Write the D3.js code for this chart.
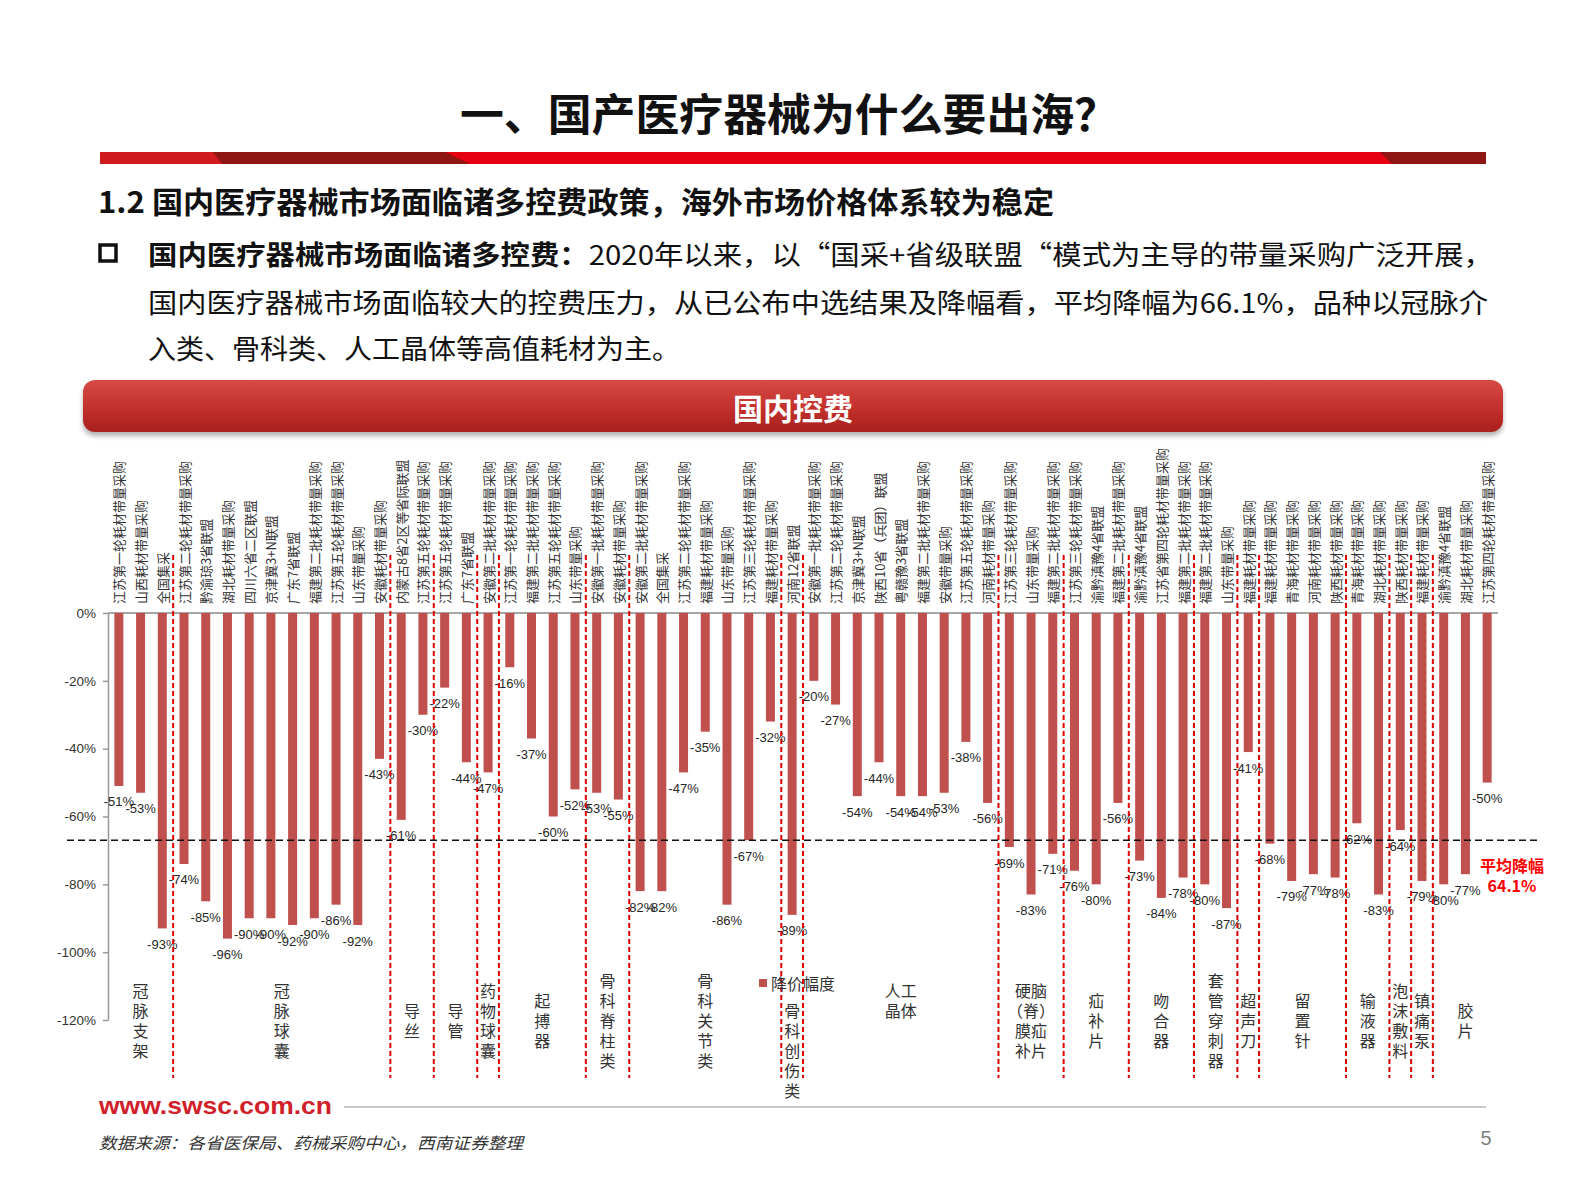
<!DOCTYPE html>
<html>
<head>
<meta charset="utf-8">
<script src="https://cdn.jsdelivr.net/npm/d3@7/dist/d3.min.js"></script>
<style>
  body { margin: 0; background: #fff; }
  svg { display: block; }
</style>
</head>
<body>
<script>
// categories (one per bar), read left to right
var categories = [
  "江苏第一轮耗材带量采购", "山西耗材带量采购", "全国集采", "江苏第二轮耗材带量采购",
  "黔渝琼3省联盟", "湖北耗材带量采购", "四川六省二区联盟", "京津冀3+N联盟",
  "广东7省联盟", "福建第二批耗材带量采购", "江苏第五轮耗材带量采购", "山东带量采购",
  "安徽耗材带量采购", "内蒙古8省2区等省际联盟", "江苏第五轮耗材带量采购", "江苏第五轮耗材带量采购",
  "广东7省联盟", "安徽第二批耗材带量采购", "江苏第一轮耗材带量采购", "福建第二批耗材带量采购",
  "江苏第五轮耗材带量采购", "山东带量采购", "安徽第一批耗材带量采购", "安徽耗材带量采购",
  "安徽第二批耗材带量采购", "全国集采", "江苏第二轮耗材带量采购", "福建耗材带量采购",
  "山东带量采购", "江苏第三轮耗材带量采购", "福建耗材带量采购", "河南12省联盟",
  "安徽第一批耗材带量采购", "江苏第二轮耗材带量采购", "京津冀3+N联盟", "陕西10省（兵团）联盟",
  "粤赣豫3省联盟", "福建第二批耗材带量采购", "安徽带量采购", "江苏第五轮耗材带量采购",
  "河南耗材带量采购", "江苏第三轮耗材带量采购", "山东带量采购", "福建第二批耗材带量采购",
  "江苏第三轮耗材带量采购", "渝黔滇豫4省联盟", "福建第二批耗材带量采购", "渝黔滇豫4省联盟",
  "江苏省第四轮耗材带量采购", "福建第二批耗材带量采购", "福建第二批耗材带量采购", "山东带量采购",
  "福建耗材带量采购", "福建耗材带量采购", "青海耗材带量采购", "河南耗材带量采购",
  "陕西耗材带量采购", "青海耗材带量采购", "湖北耗材带量采购", "陕西耗材带量采购",
  "福建耗材带量采购", "渝黔滇豫4省联盟", "湖北耗材带量采购", "江苏第四轮耗材带量采购"
]

// price cut (%) per bar
var cuts = [
  -51, -53, -93, -74, -85, -96, -90, -90, -92, -90, -86, -92, -43, -61, -30, -22,
  -44, -47, -16, -37, -60, -52, -53, -55, -82, -82, -47, -35, -86, -67, -32, -89,
  -20, -27, -54, -44, -54, -54, -53, -38, -56, -69, -83, -71, -76, -80, -56, -73,
  -84, -78, -80, -87, -41, -68, -79, -77, -78, -62, -83, -64, -79, -80, -77, -50
]

// product groups under the bars ("|" splits the label into rows)
var groupLabels = [
  "冠|脉|支|架", "冠|脉|球|囊", "导|丝", "导|管", "药|物|球|囊", "起|搏|器",
  "骨|科|脊|柱|类", "骨|科|关|节|类", "骨|科|创|伤|类", "人工|晶体",
  "硬脑|（脊）|膜疝|补片", "疝|补|片", "吻|合|器", "套|管|穿|刺|器", "超|声|刀",
  "留|置|针", "输|液|器", "泡|沫|敷|料", "镇|痛|泵", "胶|片"
]
var groupSizes = [3, 10, 2, 2, 1, 4, 2, 7, 1, 9, 3, 3, 3, 2, 1, 4, 2, 1, 1, 3]

var yTicks = [0, -20, -40, -60, -80, -100, -120]
var avgCut = -67
var avgLabel = ["平均降幅", "64.1%"]
var legendLabel = "降价幅度"

var W = 1587, H = 1190
var cjk = "'Noto Sans CJK SC', sans-serif"
var latin = "'Liberation Sans', Arial, sans-serif"

var svg = d3.select("body").append("svg")
  .attr("width", W)
  .attr("height", H)

var defs = svg.append("defs")
var pillGrad = defs.append("linearGradient")
  .attr("id", "pill").attr("x1", 0).attr("y1", 0).attr("x2", 0).attr("y2", 1)
pillGrad.append("stop").attr("offset", "0%").attr("stop-color", "#d64a45")
pillGrad.append("stop").attr("offset", "55%").attr("stop-color", "#c3302c")
pillGrad.append("stop").attr("offset", "100%").attr("stop-color", "#a81f1e")
defs.append("filter").attr("id", "shadow")
  .attr("x", "-5%").attr("y", "-30%").attr("width", "110%").attr("height", "180%")
  .append("feDropShadow")
  .attr("dx", 0).attr("dy", 4).attr("stdDeviation", 2.5)
  .attr("flood-color", "#000").attr("flood-opacity", 0.3)

// ---------- slide header ----------
svg.append("text")
  .attr("x", 789).attr("y", 112)
  .attr("text-anchor", "middle")
  .attr("dominant-baseline", "central")
  .style("font-family", cjk).style("font-weight", 700).style("font-size", "44px")
  .attr("textLength", 658).attr("lengthAdjust", "spacingAndGlyphs")
  .attr("fill", "#111")
  .text("一、国产医疗器械为什么要出海？")

// red band with dark ends
var band = svg.append("g")
band.append("rect").attr("x", 100).attr("y", 152).attr("width", 1386).attr("height", 12).attr("fill", "#e60012")
band.append("polygon").attr("points", "100,152 213,152 222,164 100,164").attr("fill", "#cf1b1e")
band.append("polygon").attr("points", "213,152 445,152 470,164 222,164").attr("fill", "#8e1713")
band.append("polygon").attr("points", "1380,152 1486,152 1486,164 1392,164").attr("fill", "#8e1713")

svg.append("text")
  .attr("x", 98).attr("y", 200)
  .attr("dominant-baseline", "central")
  .style("font-family", cjk).style("font-weight", 700).style("font-size", "30px")
  .attr("textLength", 956).attr("lengthAdjust", "spacingAndGlyphs")
  .attr("fill", "#111")
  .text("1.2 国内医疗器械市场面临诸多控费政策，海外市场价格体系较为稳定")

svg.append("rect")
  .attr("x", 100).attr("y", 245).attr("width", 16).attr("height", 16)
  .attr("fill", "none").attr("stroke", "#111").attr("stroke-width", 3.5)

var bullet1 = svg.append("text")
  .attr("x", 148).attr("y", 253)
  .attr("dominant-baseline", "central")
  .style("font-family", cjk).style("font-size", "27px")
  .attr("textLength", 1345).attr("lengthAdjust", "spacingAndGlyphs")
  .attr("fill", "#111")
bullet1.append("tspan").style("font-weight", 700).text("国内医疗器械市场面临诸多控费：")
bullet1.append("tspan").text("2020年以来，以“国采+省级联盟“模式为主导的带量采购广泛开展，")

svg.append("text")
  .attr("x", 148).attr("y", 301)
  .attr("dominant-baseline", "central")
  .style("font-family", cjk).style("font-size", "27px")
  .attr("textLength", 1340).attr("lengthAdjust", "spacingAndGlyphs")
  .attr("fill", "#111")
  .text("国内医疗器械市场面临较大的控费压力，从已公布中选结果及降幅看，平均降幅为66.1%，品种以冠脉介")

svg.append("text")
  .attr("x", 148).attr("y", 347)
  .attr("dominant-baseline", "central")
  .style("font-family", cjk).style("font-size", "27px")
  .attr("textLength", 532).attr("lengthAdjust", "spacingAndGlyphs")
  .attr("fill", "#111")
  .text("入类、骨科类、人工晶体等高值耗材为主。")

// pill header
svg.append("rect")
  .attr("x", 83).attr("y", 380).attr("width", 1420).attr("height", 52).attr("rx", 12)
  .attr("fill", "url(#pill)")
  .attr("filter", "url(#shadow)")
svg.append("text")
  .attr("x", 793).attr("y", 407)
  .attr("text-anchor", "middle")
  .attr("dominant-baseline", "central")
  .style("font-family", cjk).style("font-weight", 700).style("font-size", "30px")
  .attr("fill", "#fff")
  .text("国内控费")

// ---------- chart ----------
var x = d3.scaleBand()
  .domain(d3.range(categories.length))
  .range([108, 1498])
  .paddingInner(0.586)
  .paddingOuter(0.293)

var y = d3.scaleLinear()
  .domain([-120, 0])
  .range([1020, 613])

var bw = x.bandwidth()
var cx = function (i) { return x(i) + bw / 2 }

// y axis
var yAxis = svg.append("g")
  .attr("transform", "translate(108,0)")
  .call(d3.axisLeft(y).tickValues(yTicks).tickFormat(function (d) { return d + "%" })
    .tickSize(5).tickSizeOuter(0).tickPadding(7))
yAxis.select(".domain").attr("stroke", "#999").attr("stroke-width", 1.5)
yAxis.selectAll(".tick line").attr("stroke", "#999").attr("stroke-width", 1.5)
yAxis.selectAll(".tick text")
  .style("font-family", latin).style("font-size", "13.5px").attr("fill", "#333")

// zero line
svg.append("line")
  .attr("x1", x.range()[0]).attr("x2", x.range()[1])
  .attr("y1", y(0)).attr("y2", y(0))
  .attr("stroke", "#a6a6a6").attr("stroke-width", 1.8)

// bars
svg.append("g").selectAll("rect")
  .data(cuts)
  .enter()
  .append("rect")
  .attr("x", function (d, i) { return x(i) })
  .attr("y", y(0))
  .attr("width", bw)
  .attr("height", function (d) { return y(d) - y(0) })
  .attr("fill", "#c0504d")

// value labels
svg.append("g").selectAll("text")
  .data(cuts)
  .enter()
  .append("text")
  .attr("x", function (d, i) { return cx(i) })
  .attr("y", function (d) { return y(d) + 16 })
  .attr("text-anchor", "middle")
  .attr("dominant-baseline", "central")
  .style("font-family", latin).style("font-size", "13px")
  .attr("fill", "#262626")
  .text(function (d) { return d + "%" })

// rotated category labels
svg.append("g").selectAll("text")
  .data(categories)
  .enter()
  .append("text")
  .attr("transform", function (d, i) { return "translate(" + cx(i) + ",604) rotate(-90)" })
  .attr("dominant-baseline", "central")
  .style("font-family", cjk).style("font-size", "13px")
  .attr("fill", "#333")
  .text(function (d) { return d })

// group boundaries
var ends = []
var acc = 0
groupSizes.forEach(function (n) { acc += n; ends.push(acc - 1) })

svg.append("g").selectAll("line")
  .data(ends.slice(0, -1))
  .enter()
  .append("line")
  .attr("x1", function (d) { return cx(d) + x.step() / 2 })
  .attr("x2", function (d) { return cx(d) + x.step() / 2 })
  .attr("y1", y(0) - 58)
  .attr("y2", y(-120) + 58)
  .attr("stroke", "#e00000")
  .attr("stroke-width", 2)
  .attr("stroke-dasharray", "5,3")

// average line
svg.append("line")
  .attr("x1", 67).attr("x2", 1538)
  .attr("y1", y(avgCut)).attr("y2", y(avgCut))
  .attr("stroke", "#111").attr("stroke-width", 1.6)
  .attr("stroke-dasharray", "7,4")

svg.append("g").selectAll("text")
  .data(avgLabel)
  .enter()
  .append("text")
  .attr("x", 1512)
  .attr("y", function (d, i) { return y(avgCut) + 25 + i * 20 })
  .attr("text-anchor", "middle")
  .attr("dominant-baseline", "central")
  .style("font-family", cjk).style("font-weight", 700).style("font-size", "16px")
  .attr("fill", "#ff0000")
  .text(function (d) { return d })

// group labels
var groupG = svg.append("g")
groupLabels.forEach(function (lab, g) {
  var first = ends[g] - groupSizes[g] + 1
  var mid = (cx(first) + cx(ends[g])) / 2
  var rows = lab.split("|")
  var cy = 1020
  if (lab === "骨|科|创|伤|类") cy = 1050
  if (lab === "人工|晶体") cy = 1000
  rows.forEach(function (r, k) {
    groupG.append("text")
      .attr("x", mid)
      .attr("y", cy + (k - (rows.length - 1) / 2) * 20)
      .attr("text-anchor", "middle")
      .attr("dominant-baseline", "central")
      .style("font-family", cjk).style("font-size", "16px")
      .attr("fill", "#333")
      .text(r)
  })
})

// legend
svg.append("rect")
  .attr("x", 759).attr("y", 979).attr("width", 8).attr("height", 8)
  .attr("fill", "#c0504d")
svg.append("text")
  .attr("x", 771).attr("y", 983)
  .attr("dominant-baseline", "central")
  .style("font-family", cjk).style("font-size", "16px")
  .attr("fill", "#333")
  .text(legendLabel)

// ---------- footer ----------
svg.append("text")
  .attr("x", 99).attr("y", 1105)
  .attr("dominant-baseline", "central")
  .style("font-family", latin).style("font-weight", 700).style("font-size", "24px")
  .attr("textLength", 233).attr("lengthAdjust", "spacingAndGlyphs")
  .attr("fill", "#d0202a")
  .text("www.swsc.com.cn")
svg.append("line")
  .attr("x1", 344).attr("x2", 1486).attr("y1", 1107).attr("y2", 1107)
  .attr("stroke", "#c8c8c8").attr("stroke-width", 2)
svg.append("text")
  .attr("x", 99).attr("y", 1142)
  .attr("dominant-baseline", "central")
  .style("font-family", cjk).style("font-style", "italic").style("font-size", "16px")
  .attr("textLength", 424).attr("lengthAdjust", "spacingAndGlyphs")
  .attr("fill", "#333")
  .text("数据来源：各省医保局、药械采购中心，西南证券整理")
svg.append("text")
  .attr("x", 1486).attr("y", 1138)
  .attr("text-anchor", "middle")
  .attr("dominant-baseline", "central")
  .style("font-family", latin).style("font-size", "20px")
  .attr("fill", "#7f7f7f")
  .text("5")
</script>
</body>
</html>
